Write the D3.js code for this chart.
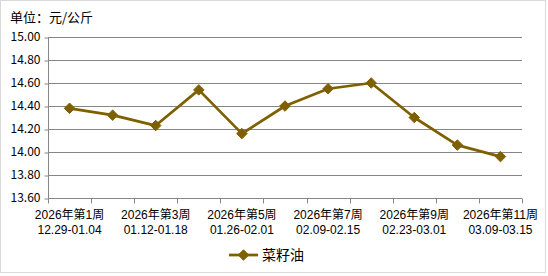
<!DOCTYPE html>
<html>
<head>
  <meta charset="utf-8">
  <title>菜籽油</title>
  <script src="https://cdn.jsdelivr.net/npm/d3@7"></script>
  <style>
    body { margin: 0; background: #fff; }
    text { font-family: "Noto Sans CJK SC", "DejaVu Sans", sans-serif; fill: #000; }
    .lbl text { font-family: "Liberation Sans", "Noto Sans CJK SC", sans-serif; }
  </style>
</head>
<body>
<div id="container"></div>
<script>
  var weeks = ["2026年第1周","2026年第2周","2026年第3周","2026年第4周","2026年第5周","2026年第6周",
               "2026年第7周","2026年第8周","2026年第9周","2026年第10周","2026年第11周"];
  var dates = ["12.29-01.04","01.05-01.11","01.12-01.18","01.19-01.25","01.26-02.01","02.02-02.08",
               "02.09-02.15","02.16-02.22","02.23-03.01","03.02-03.08","03.09-03.15"];
  var prices = [14.38, 14.32, 14.23, 14.54, 14.16, 14.40, 14.55, 14.60, 14.30, 14.06, 13.96];
  var yTicks = [13.60, 13.80, 14.00, 14.20, 14.40, 14.60, 14.80, 15.00];
  var seriesName = "菜籽油";
  var unitLabel = "单位：元/公斤";

  var W = 548, H = 276;
  var color = "#7f6000";
  var svg = d3.select("#container").append("svg").attr("width", W).attr("height", H);

  // outer frame
  svg.append("rect").attr("x", 0.5).attr("y", 0.5).attr("width", 545).attr("height", 272)
     .attr("fill", "#fff").attr("stroke", "#d9d9d9");

  var x = d3.scaleBand().domain(weeks).range([48, 522]);
  var y = d3.scaleLinear().domain([13.6, 15.0]).range([198, 37]);

  svg.append("text").attr("x", 10).attr("y", 22).style("font-size", "13px").text(unitLabel);

  // grid
  svg.append("g").selectAll("line").data(yTicks).enter().append("line")
     .attr("x1", 48).attr("x2", 522)
     .attr("y1", function(d){ return Math.round(y(d)) + 0.5; })
     .attr("y2", function(d){ return Math.round(y(d)) + 0.5; })
     .attr("stroke", "#868686").attr("stroke-width", 1);

  // y axis
  var yAxis = d3.axisLeft(y).tickValues(yTicks).tickSize(4).tickFormat(d3.format(".2f"));
  var gy = svg.append("g").attr("transform", "translate(48.5,0)").call(yAxis);
  gy.selectAll("line").attr("stroke", "#868686")
    .attr("transform", function(d){ return "translate(0," + (Math.round(y(d)) + 0.5 - y(d)) + ")"; });
  gy.select(".domain").attr("stroke", "#868686").attr("d", "M0,37.5V198.5");
  gy.selectAll("text").attr("x", -8).style("font-size", "12px").style("font-family", "\"Noto Sans CJK SC\", sans-serif")
    .attr("fill", "#000");

  // x axis
  var gx = svg.append("g").attr("transform", "translate(0,198.5)");
  gx.append("line").attr("x1", 48).attr("x2", 522).attr("stroke", "#868686");
  var bounds = weeks.map(function(d){ return x(d); }).concat([x.range()[1]]);
  gx.selectAll("line.tick").data(bounds).enter().append("line").attr("class", "tick")
    .attr("x1", function(d){ return Math.round(d) + 0.5; })
    .attr("x2", function(d){ return Math.round(d) + 0.5; })
    .attr("y1", 0).attr("y2", 5).attr("stroke", "#868686");
  var labelled = weeks.filter(function(d, i){ return i % 2 == 0; });
  var lbl = gx.selectAll("g.lbl").data(labelled).enter().append("g").attr("class", "lbl")
    .attr("transform", function(d){ return "translate(" + (x(d) + x.bandwidth() / 2) + ",0)"; });
  lbl.append("text").attr("y", 20).attr("text-anchor", "middle").style("font-size", "12px")
    .text(function(d){ return d; });
  lbl.append("text").attr("y", 35).attr("text-anchor", "middle").style("font-size", "12px")
    .text(function(d){ return dates[weeks.indexOf(d)]; });

  // series
  var line = d3.line().x(function(d, i){ return x(weeks[i]) + x.bandwidth() / 2; })
                      .y(function(d){ return y(d); });
  svg.append("path").datum(prices).attr("d", line).attr("fill", "none")
     .attr("stroke", color).attr("stroke-width", 2.75).attr("stroke-linejoin", "round");

  var diamond = d3.symbol().type(d3.symbolDiamond2).size(70);
  svg.append("g").selectAll("path").data(prices).enter().append("path")
     .attr("d", diamond)
     .attr("transform", function(d, i){ return "translate(" + (x(weeks[i]) + x.bandwidth() / 2) + "," + y(d) + ")"; })
     .attr("fill", color).attr("stroke", color);

  // legend
  var lg = svg.append("g").attr("transform", "translate(0,255)");
  lg.append("line").attr("x1", 229).attr("x2", 258).attr("y1", 0).attr("y2", 0)
    .attr("stroke", color).attr("stroke-width", 2.75);
  lg.append("path").attr("d", diamond).attr("transform", "translate(243.5,0)").attr("fill", color).attr("stroke", color);
  lg.append("text").attr("x", 262).attr("y", 5).style("font-size", "14px").text(seriesName);
</script>
</body>
</html>
